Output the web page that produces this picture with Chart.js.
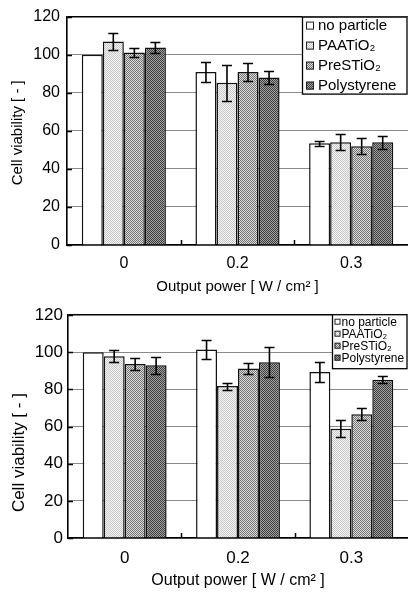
<!DOCTYPE html>
<html>
<head>
<meta charset="utf-8">
<script src="https://cdn.jsdelivr.net/npm/chart.js@4.4.1/dist/chart.umd.min.js"></script>
<style>
  body { margin: 0; background: #fff; }
  #topBox { position: absolute; left: 0; top: 0; width: 408px; height: 300px; }
  #bottomBox { position: absolute; left: 0; top: 300px; width: 408px; height: 294px; }
</style>
</head>
<body>
<div id="topBox"><canvas id="topChart" width="408" height="300"></canvas></div>
<div id="bottomBox"><canvas id="bottomChart" width="408" height="294"></canvas></div>
<script>
'use strict';

// data
const powerLabels = ['0', '0.2', '0.3'];
const seriesNames = ['no particle', 'PAATiO₂', 'PreSTiO₂', 'Polystyrene'];
const yTicks = [0, 20, 40, 60, 80, 100, 120];

// upper panel
const topNoParticle = [100, 90.9, 53.4];
const topPaa = [106.9, 85.2, 54.0];
const topPres = [101.2, 90.9, 51.9];
const topPoly = [103.8, 88.0, 54.0];
const topNoParticleErr = [0, 5.2, 1.2];
const topPaaErr = [4.6, 9.5, 4.3];
const topPresErr = [2.5, 4.8, 4.3];
const topPolyErr = [3.0, 3.6, 3.5];

// lower panel
const bottomNoParticle = [100, 101.5, 89.4];
const bottomPaa = [97.9, 81.8, 58.9];
const bottomPres = [93.7, 91.3, 66.6];
const bottomPoly = [93.0, 94.7, 85.3];
const bottomNoParticleErr = [0, 5.0, 5.2];
const bottomPaaErr = [3.3, 1.9, 4.4];
const bottomPresErr = [3.3, 2.8, 3.2];
const bottomPolyErr = [4.7, 8.1, 1.8];

const fontFamily = '"Liberation Sans", Arial, sans-serif';

// dithered fills like the scanned figure
function makeDots(ctx, light, dark) {
  const c = document.createElement('canvas');
  c.width = 2;
  c.height = 2;
  const g = c.getContext('2d');
  g.fillStyle = light;
  g.fillRect(0, 0, 2, 2);
  g.fillStyle = dark;
  g.fillRect(0, 0, 1, 1);
  g.fillRect(1, 1, 1, 1);
  return ctx.createPattern(c, 'repeat');
}

function makeFills(ctx) {
  return [
    '#ffffff',
    makeDots(ctx, '#f6f6f6', '#c6c6c6'),
    makeDots(ctx, '#dedede', '#727272'),
    makeDots(ctx, '#a4a4a4', '#3c3c3c')
  ];
}

// plugins
const errorBars = {
  id: 'errorBars',
  afterDatasetsDraw(chart) {
    const ctx = chart.ctx;
    const yScale = chart.scales.y;
    ctx.save();
    ctx.strokeStyle = '#000';
    ctx.lineWidth = 1.6;
    chart.data.datasets.forEach((ds, i) => {
      const meta = chart.getDatasetMeta(i);
      meta.data.forEach((bar, j) => {
        const err = ds.errors[j];
        if (!err) return;
        const top = Math.round(yScale.getPixelForValue(ds.data[j] + err)) + 0.5;
        const bottom = Math.round(yScale.getPixelForValue(ds.data[j] - err)) + 0.5;
        const x = bar.x;
        ctx.beginPath();
        ctx.moveTo(x, top);
        ctx.lineTo(x, bottom);
        ctx.moveTo(x - 5, top);
        ctx.lineTo(x + 5, top);
        ctx.moveTo(x - 5, bottom);
        ctx.lineTo(x + 5, bottom);
        ctx.stroke();
      });
    });
    ctx.restore();
  }
};

const innerTicks = {
  id: 'innerTicks',
  afterDatasetsDraw(chart) {
    const ctx = chart.ctx;
    const area = chart.chartArea;
    const xScale = chart.scales.x;
    const yScale = chart.scales.y;
    ctx.save();
    ctx.strokeStyle = '#000';
    ctx.lineWidth = 1.5;
    ctx.beginPath();
    for (let v of yTicks) {
      const y = Math.round(yScale.getPixelForValue(v)) + 0.5;
      ctx.moveTo(area.left, y);
      ctx.lineTo(area.left + 5, y);
    }
    const catWidth = (area.right - area.left) / powerLabels.length;
    for (let i = 1; i < powerLabels.length; i++) {
      const x = Math.round(xScale.getPixelForValue(i) - catWidth / 2) + 0.5;
      ctx.moveTo(x, area.bottom);
      ctx.lineTo(x, area.bottom - 5);
    }
    ctx.stroke();
    ctx.restore();
  }
};

// y title, the lower panel has it sitting a bit low
const sideTitle = {
  id: 'sideTitle',
  afterDraw(chart, args, opts) {
    const ctx = chart.ctx;
    const area = chart.chartArea;
    ctx.save();
    ctx.translate(opts.x, (area.top + area.bottom) / 2 + opts.shift);
    ctx.rotate(-Math.PI / 2);
    ctx.font = opts.size + 'px ' + fontFamily;
    ctx.fillStyle = '#000';
    ctx.textAlign = 'center';
    ctx.textBaseline = 'middle';
    ctx.fillText('Cell viability [ - ]', 0, 0);
    ctx.restore();
  }
};

const boxLegend = {
  id: 'boxLegend',
  afterDraw(chart, args, opts) {
    const ctx = chart.ctx;
    const area = chart.chartArea;
    const left = area.right - opts.width;
    const top = area.top + opts.dy;
    ctx.save();
    ctx.fillStyle = '#fff';
    ctx.fillRect(left, top, opts.width, opts.height);
    ctx.strokeStyle = '#000';
    ctx.lineWidth = 1.3;
    ctx.strokeRect(left + 0.5, top + 0.5, opts.width - 1.5, opts.height);
    ctx.font = opts.fontSize + 'px ' + fontFamily;
    ctx.textBaseline = 'middle';
    chart.data.datasets.forEach((ds, i) => {
      const cy = top + opts.firstRow + i * opts.rowStep;
      const m = opts.marker;
      ctx.fillStyle = ds.backgroundColor;
      ctx.fillRect(left + opts.markerX, cy - m / 2, m, m);
      ctx.lineWidth = 1;
      ctx.strokeStyle = '#222';
      ctx.strokeRect(left + opts.markerX + 0.5, cy - m / 2 + 0.5, m - 1, m - 1);
      ctx.fillStyle = '#000';
      ctx.fillText(ds.label, left + opts.textX, cy + 0.5);
    });
    ctx.restore();
  }
};

function makeChart(canvasId, values, errors, look) {
  const ctx = document.getElementById(canvasId).getContext('2d');
  const fills = makeFills(ctx);
  const datasets = [];
  for (let i = 0; i < seriesNames.length; i++) {
    datasets.push({
      label: seriesNames[i],
      data: values[i],
      errors: errors[i],
      backgroundColor: fills[i],
      borderColor: '#111',
      borderWidth: 1.5,
      barPercentage: 1,
      categoryPercentage: 0.74
    });
  }

  return new Chart(ctx, {
    type: 'bar',
    data: { labels: powerLabels, datasets: datasets },
    plugins: [errorBars, innerTicks, sideTitle, boxLegend],
    options: {
      responsive: false,
      animation: false,
      devicePixelRatio: 1,
      layout: { padding: { top: look.top, right: 0, left: 0, bottom: 0 } },
      plugins: {
        legend: { display: false },
        tooltip: { enabled: false },
        boxLegend: look.legend,
        sideTitle: look.yTitle
      },
      scales: {
        x: {
          afterFit: (scale) => { scale.height = look.bottom; },
          grid: { display: false, drawTicks: false },
          border: { display: true, color: '#000', width: 1.6 },
          ticks: {
            color: '#000',
            padding: look.xTickPad,
            font: { family: fontFamily, size: look.tickSize }
          },
          title: {
            display: true,
            text: 'Output power [ W / cm² ]',
            color: '#000',
            padding: { top: 0, bottom: look.xTitlePad },
            font: { family: fontFamily, size: look.xTitleSize }
          }
        },
        y: {
          min: 0,
          max: 120,
          afterFit: (scale) => { scale.width = look.left; },
          afterBuildTicks: (scale) => { scale.ticks = yTicks.map(v => ({ value: v })); },
          grid: {
            drawTicks: false,
            color: (c) => (c.tick && c.tick.value === 120 ? '#000' : '#8a8a8a'),
            lineWidth: (c) => (c.tick && c.tick.value === 120 ? 1.5 : 1)
          },
          border: { display: true, color: '#000', width: 1.6 },
          ticks: {
            color: '#000',
            padding: look.yTickPad,
            font: { family: fontFamily, size: look.tickSize }
          }
        }
      }
    }
  });
}

makeChart('topChart',
  [topNoParticle, topPaa, topPres, topPoly],
  [topNoParticleErr, topPaaErr, topPresErr, topPolyErr],
  {
    top: 13, bottom: 55, left: 67,
    tickSize: 16, xTitleSize: 15,
    xTickPad: 9, yTickPad: 7, xTitlePad: 4,
    yTitle: { x: 18, shift: 2, size: 15 },
    legend: { width: 106, height: 77, dy: 0, firstRow: 9, rowStep: 20,
      marker: 8, markerX: 4, textX: 16, fontSize: 15 }
  });

makeChart('bottomChart',
  [bottomNoParticle, bottomPaa, bottomPres, bottomPoly],
  [bottomNoParticleErr, bottomPaaErr, bottomPresErr, bottomPolyErr],
  {
    top: 15, bottom: 56, left: 68,
    tickSize: 17, xTitleSize: 16,
    xTickPad: 10, yTickPad: 5, xTitlePad: 4,
    yTitle: { x: 19, shift: 26, size: 17 },
    legend: { width: 76, height: 54, dy: -1, firstRow: 7.5, rowStep: 12,
      marker: 6, markerX: 2.5, textX: 9.5, fontSize: 12 }
  });
</script>
</body>
</html>
